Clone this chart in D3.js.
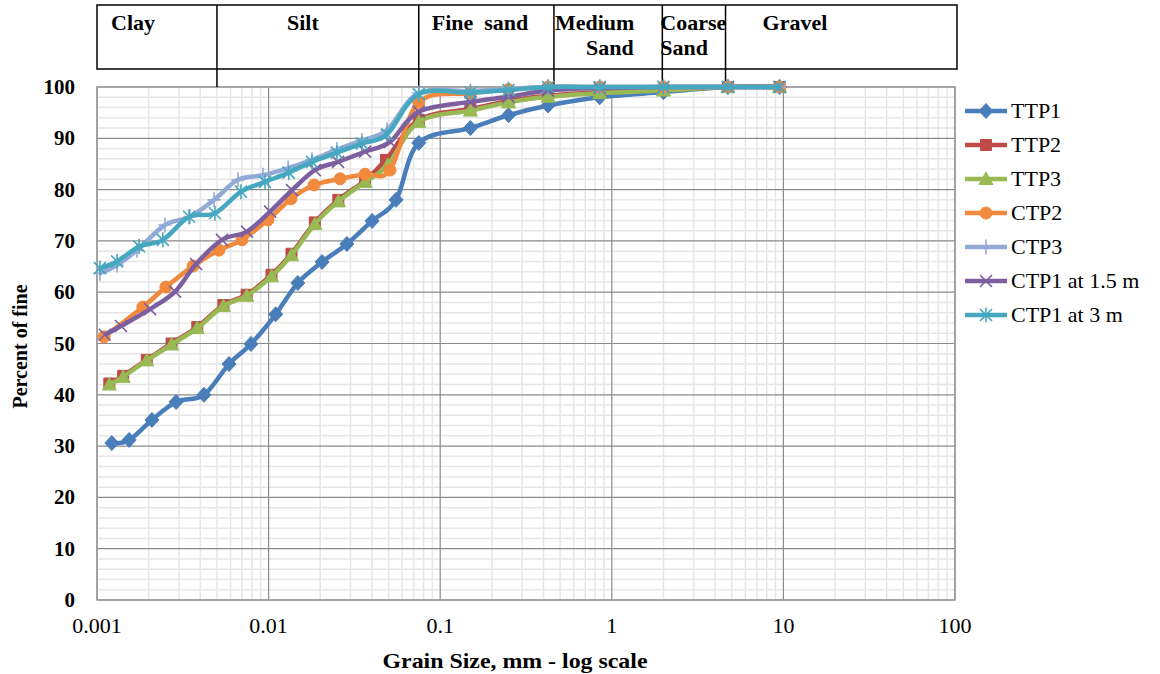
<!DOCTYPE html>
<html>
<head>
<meta charset="utf-8">
<script src="https://cdn.jsdelivr.net/npm/d3@7"></script>
<style>
  body { margin: 0; background: #fff; }
  text { font-family: "Liberation Serif", "Times New Roman", serif; fill: #000; }
</style>
</head>
<body>
<div id="chart"></div>
<script>
// grain size data (mm) and percent passing
var sieveSizes = [0.075, 0.15, 0.25, 0.425, 0.85, 2, 4.75, 9.5];

var ttp1Size = [0.00122, 0.00154, 0.00209, 0.00289, 0.0042, 0.00588, 0.00789, 0.0110, 0.0148, 0.0205, 0.0286, 0.0401, 0.0553].concat(sieveSizes);
var ttp1Pass = [30.6, 31.2, 35.1, 38.6, 40.0, 46.0, 49.9, 55.7, 61.8, 65.9, 69.4, 73.9, 78.0, 89.1, 92.0, 94.5, 96.4, 98.0, 99.0, 100, 100];

var ttp2Size = [0.00118, 0.00142, 0.00195, 0.00272, 0.00384, 0.00545, 0.00745, 0.0104, 0.0136, 0.0186, 0.0255, 0.0365, 0.0483].concat(sieveSizes);
var ttp2Pass = [42.2, 43.7, 46.8, 50.0, 53.2, 57.5, 59.5, 63.4, 67.5, 73.6, 78.0, 81.8, 85.8, 93.6, 95.7, 97.3, 98.3, 99.0, 99.4, 100, 100];

var ttp3Size = [0.00118, 0.00142, 0.00195, 0.00272, 0.00384, 0.00545, 0.00745, 0.0104, 0.0136, 0.0186, 0.0255, 0.0365, 0.0495].concat(sieveSizes);
var ttp3Pass = [42.0, 43.5, 46.7, 49.8, 53.0, 57.3, 59.3, 63.1, 67.2, 73.3, 77.7, 81.5, 84.8, 93.2, 95.4, 97.0, 98.1, 98.8, 99.3, 100, 100];

var ctp2Size = [0.00110, 0.00185, 0.00252, 0.00363, 0.00514, 0.0070, 0.00992, 0.0135, 0.0184, 0.0261, 0.0365, 0.0510].concat(sieveSizes);
var ctp2Pass = [51.3, 57.1, 61.0, 65.1, 68.2, 70.2, 74.1, 78.2, 80.9, 82.1, 83.0, 83.8, 97.0, 98.8, 99.5, 100, 100, 100, 100, 100];

var ctp3Size = [0.00104, 0.00131, 0.00171, 0.00249, 0.00348, 0.00481, 0.00663, 0.00927, 0.0130, 0.0179, 0.0250, 0.0350, 0.0490].concat(sieveSizes);
var ctp3Pass = [63.7, 65.3, 68.2, 73.1, 74.7, 78.0, 81.9, 82.8, 84.2, 85.8, 87.8, 89.6, 91.6, 98.8, 99.2, 99.6, 100, 100, 100, 100, 100];

var ctp15Size = [0.00111, 0.00138, 0.00204, 0.00285, 0.00378, 0.00535, 0.00748, 0.0102, 0.0137, 0.0186, 0.0254, 0.0365, 0.0510].concat(sieveSizes);
var ctp15Pass = [51.7, 53.4, 56.7, 60.1, 65.5, 70.2, 71.8, 75.7, 79.9, 83.8, 85.4, 87.4, 89.3, 95.2, 97.1, 98.1, 99.3, 99.8, 100, 100, 100];

var ctp3mSize = [0.00104, 0.00131, 0.00176, 0.00242, 0.00344, 0.00487, 0.00690, 0.00952, 0.0131, 0.0179, 0.0250, 0.0350, 0.0490].concat(sieveSizes);
var ctp3mPass = [64.7, 66.0, 68.9, 70.2, 74.7, 75.4, 79.6, 81.5, 83.3, 85.4, 87.2, 89.0, 90.8, 98.6, 98.9, 99.4, 100, 100, 100, 100, 100];

var seriesNames = ["TTP1", "TTP2", "TTP3", "CTP2", "CTP3", "CTP1 at 1.5 m", "CTP1 at 3 m"];
var seriesSizes = [ttp1Size, ttp2Size, ttp3Size, ctp2Size, ctp3Size, ctp15Size, ctp3mSize];
var seriesPass = [ttp1Pass, ttp2Pass, ttp3Pass, ctp2Pass, ctp3Pass, ctp15Pass, ctp3mPass];

// soil classes in the header strip and their boundaries (mm)
var zoneNames = [["Clay"], ["Silt"], ["Fine  sand"], ["Medium", "Sand"], ["Coarse", "Sand"], ["Gravel"]];
var zoneBreaks = [0.005, 0.075, 0.46, 1.97, 4.6];

var xTicks = [0.001, 0.01, 0.1, 1, 10, 100];
var yTicks = [0, 10, 20, 30, 40, 50, 60, 70, 80, 90, 100];

// styles
var colors = ["#4A7EBB", "#BE4B48", "#98B954", "#F28A3E", "#93AAD6", "#7D5FA0", "#46A8C0"];
var markers = ["diamond", "square", "triangle", "circle", "plus", "x", "star"];

var svgWidth = 1160, svgHeight = 674;
var margin = { top: 87, right: 205, bottom: 74, left: 97 };
var width = svgWidth - margin.left - margin.right;
var height = svgHeight - margin.top - margin.bottom;

var svg = d3.select("#chart").append("svg")
  .attr("width", svgWidth)
  .attr("height", svgHeight);

var x = d3.scaleLog().domain([0.001, 100]).range([margin.left, margin.left + width]);
var y = d3.scaleLinear().domain([0, 100]).range([margin.top + height, margin.top]);

// minor grid
var minorX = [];
for (var e = -3; e < 2; e++) {
  for (var m = 2; m <= 9; m++) minorX.push(m * Math.pow(10, e));
}
var minorY = d3.range(0, 101, 2).filter(d => d % 10 !== 0);

var grid = svg.append("g");
grid.selectAll(".mx").data(minorX).enter().append("line")
  .attr("x1", d => x(d)).attr("x2", d => x(d))
  .attr("y1", y(0)).attr("y2", y(100))
  .attr("stroke", "#e6e6e6").attr("stroke-width", 1.5);
grid.selectAll(".my").data(minorY).enter().append("line")
  .attr("x1", x(0.001)).attr("x2", x(100))
  .attr("y1", d => y(d)).attr("y2", d => y(d))
  .attr("stroke", "#e6e6e6").attr("stroke-width", 1.5);

// major grid
grid.selectAll(".Mx").data(xTicks).enter().append("line")
  .attr("x1", d => x(d)).attr("x2", d => x(d))
  .attr("y1", y(0)).attr("y2", y(100))
  .attr("stroke", "#8a8a8a").attr("stroke-width", 1.2);
grid.selectAll(".My").data(yTicks).enter().append("line")
  .attr("x1", x(0.001)).attr("x2", x(100))
  .attr("y1", d => y(d)).attr("y2", d => y(d))
  .attr("stroke", "#8a8a8a").attr("stroke-width", 1.2);

// plot border
svg.append("rect")
  .attr("x", x(0.001)).attr("y", y(100))
  .attr("width", x(100) - x(0.001)).attr("height", y(0) - y(100))
  .attr("fill", "none").attr("stroke", "#9a9a9a").attr("stroke-width", 1.5);

// axis tick labels
svg.append("g").selectAll("text").data(xTicks).enter().append("text")
  .attr("x", d => x(d)).attr("y", y(0) + 33)
  .attr("text-anchor", "middle")
  .attr("font-size", "22px")
  .text(d => d3.format("~g")(d));

svg.append("g").selectAll("text").data(yTicks).enter().append("text")
  .attr("x", x(0.001) - 22).attr("y", d => y(d) + 7)
  .attr("text-anchor", "end")
  .attr("font-size", "21px").attr("font-weight", "bold")
  .text(d => d);

// axis titles
svg.append("text")
  .attr("x", 515).attr("y", 668)
  .attr("text-anchor", "middle")
  .attr("font-size", "21px").attr("font-weight", "bold")
  .attr("textLength", 265).attr("lengthAdjust", "spacingAndGlyphs")
  .text("Grain Size, mm - log scale");

svg.append("text")
  .attr("transform", "translate(27," + (y(50) + 3) + ") rotate(-90)")
  .attr("text-anchor", "middle")
  .attr("font-size", "20px").attr("font-weight", "bold")
  .text("Percent of fine");

// header strip with soil classes
var headTop = 5, headBottom = 69;
var header = svg.append("g");
header.append("rect")
  .attr("x", x(0.001)).attr("y", headTop)
  .attr("width", x(100) + 2 - x(0.001)).attr("height", headBottom - headTop)
  .attr("fill", "none").attr("stroke", "#000").attr("stroke-width", 1.5);
header.selectAll(".brk").data(zoneBreaks).enter().append("line")
  .attr("x1", d => x(d)).attr("x2", d => x(d))
  .attr("y1", headTop).attr("y2", y(100))
  .attr("stroke", "#000").attr("stroke-width", 1.5);

var zoneLeft = [0.001].concat(zoneBreaks);
var zoneDx = [14, 70, 13, 1, -2, 37];
var zoneDx2 = [0, 0, 0, 32, -2, 0];
zoneNames.forEach(function(lines, i) {
  lines.forEach(function(line, j) {
    header.append("text")
      .attr("x", x(zoneLeft[i]) + (j === 0 ? zoneDx[i] : zoneDx2[i]))
      .attr("y", 30 + j * 25)
      .attr("font-size", "22px").attr("font-weight", "bold")
      .attr("xml:space", "preserve")
      .style("white-space", "pre")
      .text(line);
  });
});

// marker shapes
function markerPath(kind) {
  switch (kind) {
    case "diamond": return "M0,-7.5L7,0L0,7.5L-7,0Z";
    case "square": return "M-5.5,-5.5H5.5V5.5H-5.5Z";
    case "triangle": return "M0,-7L7,5.5H-7Z";
    case "circle": return "M6,0A6,6 0 1 1 -6,0A6,6 0 1 1 6,0Z";
    case "plus": return "M-6.5,0H6.5M0,-7.5V7.5";
    case "x": return "M-6,-6L6,6M-6,6L6,-6";
    default: return "M-6,-6L6,6M-6,6L6,-6M0,-7.5V7.5";
  }
}
function drawMarker(g, kind, color) {
  var filled = ["diamond", "square", "triangle", "circle"].indexOf(kind) >= 0;
  g.append("path")
    .attr("d", markerPath(kind))
    .attr("fill", filled ? color : "none")
    .attr("stroke", color)
    .attr("stroke-width", filled ? 1 : 1.6);
}

var line = d3.line()
  .x(d => x(d[0]))
  .y(d => y(d[1]))
  .curve(d3.curveCardinal.tension(0));

// curves
var plot = svg.append("g");
seriesNames.forEach(function(name, i) {
  var pts = seriesSizes[i].map((s, k) => [s, seriesPass[i][k]]);
  var g = plot.append("g");
  g.append("path")
    .datum(pts)
    .attr("d", line)
    .attr("fill", "none")
    .attr("stroke", colors[i])
    .attr("stroke-width", 4.5)
    .attr("stroke-linejoin", "round");
  pts.forEach(function(p) {
    var mg = g.append("g").attr("transform", "translate(" + x(p[0]) + "," + y(p[1]) + ")");
    drawMarker(mg, markers[i], colors[i]);
  });
});

// legend
var legend = svg.append("g").attr("transform", "translate(965,111)");
seriesNames.forEach(function(name, i) {
  var row = legend.append("g").attr("transform", "translate(0," + (i * 34) + ")");
  row.append("line")
    .attr("x1", 0).attr("x2", 42)
    .attr("stroke", colors[i]).attr("stroke-width", 4.5);
  drawMarker(row.append("g").attr("transform", "translate(21,0)"), markers[i], colors[i]);
  row.append("text")
    .attr("x", 46).attr("y", 7)
    .attr("font-size", "22px")
    .text(name);
});
</script>
</body>
</html>
